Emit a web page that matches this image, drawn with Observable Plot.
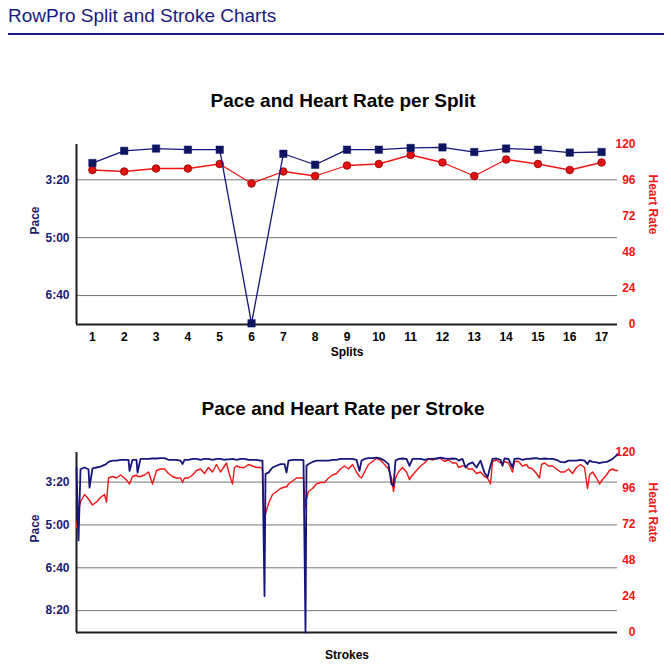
<!DOCTYPE html>
<html><head><meta charset="utf-8">
<script src="https://cdn.jsdelivr.net/npm/d3@7"></script>
<script src="https://cdn.jsdelivr.net/npm/@observablehq/plot@0.6"></script>
<style>
body{margin:0;background:#fff;font-family:"Liberation Sans",Arial,Helvetica,sans-serif;}
#page{position:relative;width:671px;height:670px;overflow:hidden;background:#fff;}
.abs{position:absolute;}
.layer{position:absolute;left:0;top:0;}
.title{position:absolute;left:0;width:686px;text-align:center;font-weight:bold;font-size:19px;line-height:20px;color:#000;}
</style></head><body>
<div id="page">
  <div class="abs" style="left:8px;top:6px;font-size:19px;line-height:20px;color:#1a1a7e;">RowPro Split and Stroke Charts</div>
  <div class="abs" style="left:8px;top:33px;width:656px;height:2px;background:#1a1a86;"></div>
  <div class="title" style="top:91px;">Pace and Heart Rate per Split</div>
  <div id="c1" class="abs" style="left:0;top:130px;width:671px;height:230px;"></div>
  <div class="title" style="top:399px;">Pace and Heart Rate per Stroke</div>
  <div id="c2" class="abs" style="left:0;top:440px;width:671px;height:230px;"></div>
</div>
<script>
// ---- Split chart data ----
const splits = [1,2,3,4,5,6,7,8,9,10,11,12,13,14,15,16,17];
const splitPace = [171,150,146,148,148,448,155,174,148,148,145,144,152,146,148,153,152]; // seconds / 500m
const splitHR = [103,102,104,104,107,94,102,99,106,107,113,108,99,110,107,103,108];
const paceTicksSplit = [200,300,400];
const paceTicksStroke = [200,300,400,500];
const hrTicks = [0,24,48,72,96,120];

// ---- Stroke chart data ----
const strokeNo = [
  1,7,13,25,37,40,49,61,73,85,
  91,97,109,121,133,145,157,160,169,181,
  184,193,205,217,229,241,253,265,277,289,
  301,313,319,325,337,349,361,373,385,397,
  409,421,433,445,451,460,469,475,481,493,
  505,517,529,541,553,559,565,568,577,589,
  601,613,625,631,637,649,661,673,682,688,
  691,697,709,721,733,745,757,769,781,793,
  805,817,829,841,850,856,865,877,889,901,
  913,925,937,946,952,958,967,979,991,1000,
  1009,1021,1033,1045,1057,1069,1081,1093,1105,1117,
  1129,1141,1147,1159,1168,1177,1189,1201,1213,1225,
  1234,1243,1249,1261,1273,1279,1285,1297,1309,1315,
  1327,1339,1351,1357,1369,1381,1390,1396,1405,1417,
  1429,1441,1453,1465,1477,1489,1501,1513,1525,1534,
  1540,1549,1561,1570,1579,1591,1600,1609,1618,1624];
const strokePace = [
  166,336,170,166,170,213,168,166,164,160,
  157,153,150,150,148,148,148,174,148,148,
  178,146,146,146,145,145,144,144,148,148,
  148,150,158,148,148,146,146,148,146,146,
  148,146,146,148,147,147,146,147,148,146,
  146,148,148,148,150,150,466,181,178,166,
  162,158,158,178,150,148,148,148,149,551,
  162,158,153,150,150,150,150,148,148,146,
  146,146,146,148,174,150,146,144,144,143,
  145,150,158,205,209,150,146,145,146,162,
  146,146,146,148,146,146,145,143,145,146,
  145,146,150,146,166,158,154,166,150,178,
  189,162,146,145,148,162,145,146,166,146,
  145,148,146,146,145,144,146,146,145,146,
  146,148,153,154,150,150,150,148,150,158,
  150,153,154,156,154,153,150,146,140,135];
const strokeHR = [
  70,81,87,92,89,88,85,87,90,92,
  87,103,104,103,105,103,100,99,104,105,
  104,104,105,107,99,108,109,109,106,104,
  103,103,100,103,103,105,108,109,106,110,
  107,112,107,111,113,105,99,110,111,110,
  110,112,111,110,110,109,71,79,86,92,
  94,96,97,97,99,101,103,103,103,83,
  89,94,96,99,100,100,103,105,106,109,
  111,109,112,107,104,103,107,112,114,116,
  115,112,109,103,94,103,107,110,107,102,
  105,108,111,113,116,115,116,116,114,115,
  113,113,110,111,111,109,109,106,107,104,
  103,99,114,115,113,113,114,113,107,114,
  114,111,112,110,109,106,103,112,113,111,
  111,109,107,107,109,106,110,112,110,96,
  105,107,103,99,102,105,108,109,108,108];

const NAVY = "#15157a", NAVY_SQ = "#0e1560", LABEL_NAVY = "#1a1a6e";
const RED = "#f01515", RED_DOT = "#e01212", RED_EDGE = "#8a0000";
const FONT = "'Liberation Sans', Arial, Helvetica, sans-serif";
const fmtPace = s => Math.floor(s / 60) + ":" + String(Math.round(s % 60)).padStart(2, "0");

function drawChart(el, cfg) {
  const rows = cfg.xs.map((x, i) => ({x, pace: cfg.pace[i], hr: cfg.hr[i]}));
  const common = {
    width: 671, height: 230,
    marginLeft: 76, marginRight: 54, marginTop: cfg.marginTop, marginBottom: cfg.marginBottom,
    style: {background: "transparent", fontFamily: FONT, overflow: "visible"}
  };
  // Layer A: grid, pace axis, x axis, frame lines
  const a = Plot.plot({
    ...common,
    x: {domain: cfg.xDomain, axis: cfg.xTicks ? undefined : null},
    y: {domain: cfg.paceDomain, reverse: true},
    marks: [
      Plot.gridY({ticks: cfg.paceTicks, stroke: "#767676", strokeOpacity: 1, strokeWidth: 1}),
      Plot.axisY({ticks: cfg.paceTicks, anchor: "left", tickSize: 0, tickPadding: 7, tickFormat: fmtPace,
        fill: LABEL_NAVY, fontWeight: "bold", fontSize: 12, label: null}),
      cfg.xTicks ? Plot.axisX({ticks: cfg.xTicks, anchor: "bottom", tickSize: 0, tickPadding: 8,
        fill: "#000", fontWeight: "bold", fontSize: 12, label: null}) : null,
      Plot.ruleX([cfg.xDomain[0]], {stroke: "#1e1e1e", strokeWidth: 2}),
      Plot.ruleY([cfg.paceDomain[1]], {stroke: "#1e1e1e", strokeWidth: 2}),
      Plot.text(["Pace"], {text: d => d, frameAnchor: "left", dx: -41, rotate: -90,
        fill: LABEL_NAVY, fontWeight: "bold", fontSize: 12}),
      Plot.text([cfg.xLabel], {text: d => d, frameAnchor: "bottom", dy: cfg.xLabelDy,
        fill: "#000", fontWeight: "bold", fontSize: 12})
    ]
  });
  // Layer B: heart rate
  const b = Plot.plot({
    ...common,
    x: {domain: cfg.xDomain, axis: null},
    y: {domain: [0, 120]},
    marks: [
      Plot.axisY({ticks: hrTicks, anchor: "right", tickSize: 0, tickPadding: 18, textAnchor: "end",
        fill: RED, fontWeight: "bold", fontSize: 12, label: null}),
      Plot.text(["Heart Rate"], {text: d => d, frameAnchor: "right", dx: 35, rotate: 90,
        fill: RED, fontWeight: "bold", fontSize: 12}),
      Plot.line(rows, {x: "x", y: "hr", stroke: RED, strokeWidth: cfg.dots ? 1.3 : 1.4}),
      cfg.dots ? Plot.dot(rows, {x: "x", y: "hr", r: 3.8, fill: RED_DOT, stroke: RED_EDGE, strokeWidth: 0.8}) : null
    ]
  });
  // Layer C: pace line
  const c = Plot.plot({
    ...common,
    x: {domain: cfg.xDomain, axis: null},
    y: {domain: cfg.paceDomain, reverse: true, axis: null},
    marks: [
      Plot.line(rows, {x: "x", y: "pace", stroke: NAVY, strokeWidth: cfg.dots ? 1.3 : 1.8}),
      cfg.dots ? Plot.dot(rows, {x: "x", y: "pace", symbol: "square", r: 4.2, fill: NAVY_SQ, stroke: NAVY_SQ, strokeWidth: 0.5}) : null
    ]
  });
  for (const s of [a, b, c]) { s.classList.add("layer"); el.appendChild(s); }
}

drawChart(document.getElementById("c1"), {
  xs: splits, pace: splitPace, hr: splitHR,
  xDomain: [0.5, 17.5], xTicks: splits, xLabel: "Splits", xLabelDy: 31,
  paceDomain: [139, 450], paceTicks: paceTicksSplit,
  marginTop: 14, marginBottom: 36, dots: true
});
drawChart(document.getElementById("c2"), {
  xs: strokeNo, pace: strokePace, hr: strokeHR,
  xDomain: [1, 1624], xTicks: null, xLabel: "Strokes", xLabelDy: 26,
  paceDomain: [131, 551], paceTicks: paceTicksStroke,
  marginTop: 12, marginBottom: 38, dots: false
});
</script>
</body></html>
